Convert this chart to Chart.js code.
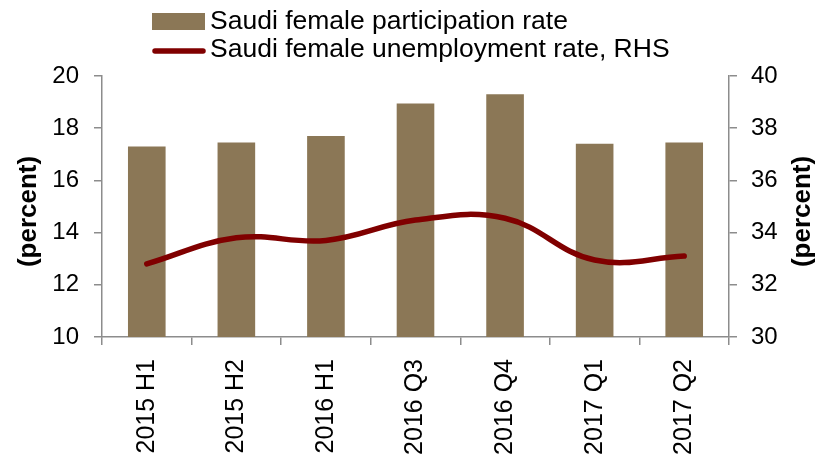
<!DOCTYPE html>
<html>
<head>
<meta charset="utf-8">
<script src="https://cdn.jsdelivr.net/npm/chart.js@4/dist/chart.umd.min.js"></script>
<style>
  html, body { margin: 0; padding: 0; background: #fff; }
  #wrap { width: 823px; height: 455px; position: relative; }
</style>
</head>
<body>
<div id="wrap"><canvas id="c" width="823" height="455"></canvas></div>
<script>
const categories = ['2015 H1', '2015 H2', '2016 H1', '2016 Q3', '2016 Q4', '2017 Q1', '2017 Q2'];
const participationRate = [17.3, 17.45, 17.7, 18.95, 19.3, 17.4, 17.45];
const unemploymentRate = [32.8, 33.8, 33.7, 34.48, 34.55, 32.95, 33.1];
const seriesNames = ['Saudi female participation rate', 'Saudi female unemployment rate, RHS'];
const axisTitle = '(percent)';

const BAR_COLOR = '#8B7756';
const LINE_COLOR = '#800000';
const AXIS_COLOR = '#8c8c8c';
const FONT = 'Liberation Sans, Arial, sans-serif';

const customDraw = {
  id: 'customDraw',
  afterDraw(chart) {
    const ctx = chart.ctx;
    const ca = chart.chartArea;
    const yL = chart.scales.y, yR = chart.scales.y1;
    ctx.save();
    // axis titles (both read bottom-to-top)
    ctx.font = 'bold 26px ' + FONT;
    ctx.fillStyle = '#000';
    ctx.textAlign = 'center';
    ctx.textBaseline = 'middle';
    const cy = (ca.top + ca.bottom) / 2 + 5;
    [[yL.left + 29, cy], [yR.right - 20, cy]].forEach(([x, y]) => {
      ctx.save();
      ctx.translate(x, y);
      ctx.rotate(-Math.PI / 2);
      ctx.fillText(axisTitle, 0, 0);
      ctx.restore();
    });
    // legend
    const lx = 152, lw = 53;
    ctx.font = '26.5px ' + FONT;
    ctx.textAlign = 'left';
    ctx.fillStyle = BAR_COLOR;
    ctx.fillRect(lx, 13, lw, 17);
    ctx.fillStyle = '#000';
    ctx.fillText(seriesNames[0], lx + lw + 5, 22);
    ctx.strokeStyle = LINE_COLOR;
    ctx.lineWidth = 5.5;
    ctx.lineCap = 'round';
    ctx.beginPath();
    ctx.moveTo(lx + 3, 51);
    ctx.lineTo(lx + lw - 2, 51);
    ctx.stroke();
    ctx.fillText(seriesNames[1], lx + lw + 5, 50);
    ctx.restore();
  }
};

new Chart(document.getElementById('c'), {
  data: {
    labels: categories,
    datasets: [
      {
        type: 'line',
        label: seriesNames[1],
        data: unemploymentRate,
        yAxisID: 'y1',
        borderColor: LINE_COLOR,
        borderWidth: 5.5,
        borderCapStyle: 'round',
        pointRadius: 0,
        tension: 0.4,
        cubicInterpolationMode: 'default',
        order: 0
      },
      {
        type: 'bar',
        label: seriesNames[0],
        data: participationRate,
        yAxisID: 'y',
        backgroundColor: BAR_COLOR,
        categoryPercentage: 0.42,
        barPercentage: 1.0,
        order: 1
      }
    ]
  },
  options: {
    responsive: false,
    animation: false,
    devicePixelRatio: 1,
    layout: { padding: { top: 76, left: 0, right: 0, bottom: 0 } },
    plugins: { legend: { display: false }, tooltip: { enabled: false } },
    scales: {
      x: {
        offset: true,
        grid: { offset: true, drawOnChartArea: false, drawTicks: true, tickLength: 8, color: AXIS_COLOR, lineWidth: 1.5 },
        border: { color: AXIS_COLOR, width: 1.5 },
        ticks: { color: '#000', font: { family: FONT, size: 25 }, maxRotation: 90, minRotation: 90, padding: 14, autoSkip: false },
        afterFit(s) { s.height = 118; }
      },
      y: {
        position: 'left',
        min: 10, max: 20,
        ticks: { stepSize: 2, color: '#000', font: { family: FONT, size: 24 }, padding: 15 },
        grid: { drawOnChartArea: false, tickLength: 8, color: AXIS_COLOR, lineWidth: 1.5 },
        border: { color: AXIS_COLOR, width: 1.5 },
        afterFit(s) { s.width = 102; }
      },
      y1: {
        position: 'right',
        min: 30, max: 40,
        ticks: { stepSize: 2, color: '#000', font: { family: FONT, size: 24 }, padding: 14 },
        grid: { drawOnChartArea: false, tickLength: 8, color: AXIS_COLOR, lineWidth: 1.5 },
        border: { color: AXIS_COLOR, width: 1.5 },
        afterFit(s) { s.width = 94; }
      }
    }
  },
  plugins: [customDraw]
});
</script>
</body>
</html>
